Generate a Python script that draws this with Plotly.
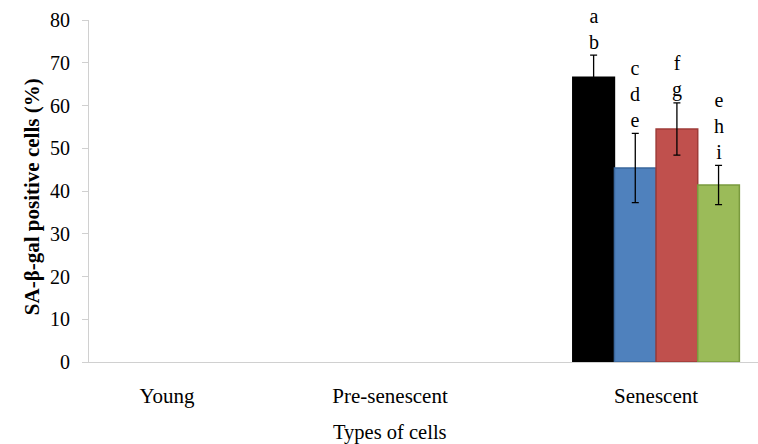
import plotly.graph_objects as go

# ---- data ----
categories = ["Young", "Pre-senescent", "Senescent"]
category_pos = [0.0, 1.0, 2.193]          # tick positions on the x axis
series_names = ["Group 1", "Group 2", "Group 3", "Group 4"]
values = [66.6, 45.4, 54.5, 41.4]          # Senescent only
errors = [5.2, 8.1, 6.1, 4.6]
letters = ["a<br>b", "c<br>d<br>e", "f<br>g", "e<br>h<br>i"]

# ---- style ----
fill_colors = ["#000000", "#4f81bd", "#c0504d", "#9bbb59"]
line_colors = ["#000000", "#3a679c", "#9e3b38", "#7a9a3e"]
FONT = "Liberation Serif, Times New Roman, serif"
group_width = 0.747
bar_w = group_width / len(values)

fig = go.Figure()
base_x = category_pos[2]
for i, (name, v, e) in enumerate(zip(series_names, values, errors)):
    off = -group_width / 2 + i * bar_w
    fig.add_trace(go.Bar(
        x=[base_x], y=[v], name=name, width=bar_w, offset=off,
        marker=dict(color=fill_colors[i], line=dict(color=line_colors[i], width=1.5)),
        error_y=dict(type="data", array=[e], visible=True, color="#000000",
                     thickness=1.3, width=3.5),
        showlegend=False,
    ))
    fig.add_annotation(
        x=base_x + off + bar_w / 2, y=v + e, xref="x", yref="y",
        text=letters[i], showarrow=False, yanchor="bottom", yshift=0,
        font=dict(family=FONT, size=20, color="#000000"), align="center",
    )

# axis titles as annotations
fig.add_annotation(
    text="Types of cells", xref="paper", yref="paper", x=0.45, y=-0.205,
    showarrow=False, font=dict(family=FONT, size=20.5, color="#000000"),
    xanchor="center", yanchor="middle",
)
fig.add_annotation(
    text="<b>SA-β-gal positive cells (%)</b>", xref="paper", yref="paper",
    x=-0.0852, y=0.482, textangle=-90, showarrow=False,
    font=dict(family=FONT, size=21, color="#000000"),
    xanchor="center", yanchor="middle",
)

fig.update_layout(
    width=758, height=444,
    margin=dict(l=89, r=0, t=20, b=82),
    paper_bgcolor="white", plot_bgcolor="white",
    barmode="overlay",
    font=dict(family=FONT, size=20, color="#000000"),
    xaxis=dict(
        range=[-0.35, 2.65], tickvals=category_pos, ticktext=categories,
        showline=True, linecolor="#d0d0d0", linewidth=1, showgrid=False,
        zeroline=False, ticks="", ticklabelstandoff=15,
        tickfont=dict(family=FONT, size=21, color="#000000"),
    ),
    yaxis=dict(
        range=[0, 80], dtick=10, showline=True, linecolor="#d0d0d0", linewidth=1,
        showgrid=False, zeroline=False, ticks="outside", ticklen=6,
        tickcolor="#d0d0d0", tickwidth=1, ticklabelstandoff=8,
        tickfont=dict(family=FONT, size=20, color="#000000"),
    ),
)

fig.write_html(
    "out.html",
    config={"displayModeBar": False},
    post_script="document.body.style.margin='0';document.body.style.overflow='hidden';",
)
